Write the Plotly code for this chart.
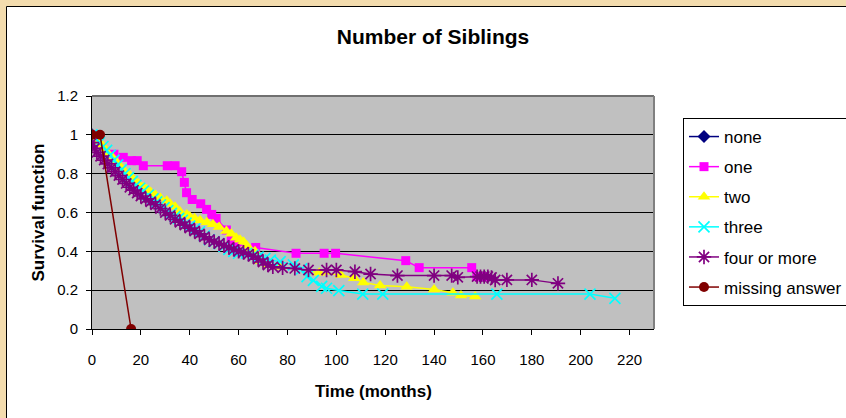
import plotly.graph_objects as go

# ---- data ----
none_x = [0]
none_y = [1.0]

one_x = [0, 9, 12.8, 16.2, 18.5, 21, 30.8, 34, 36.7, 37.8, 38.7, 41, 44.5, 46.9, 49, 50.8,
         55, 57, 59, 67, 83.5, 95, 99.7, 128.4, 133.9, 155.4, 157.5, 160]
one_y = [1.0, 0.9, 0.884, 0.867, 0.867, 0.841, 0.841, 0.841, 0.81, 0.755, 0.702, 0.667, 0.645,
         0.616, 0.59, 0.57, 0.51, 0.46, 0.435, 0.42, 0.39, 0.39, 0.39, 0.352, 0.316, 0.316, 0.27, 0.27]

two_x = [0, 1.5, 2.5, 4, 5, 6.5, 8.7, 10, 12, 13.5, 15.6, 17, 19, 21, 22.4, 24, 26, 28, 30.6, 32,
         34, 36, 38.8, 40, 42, 44.2, 47, 49.5, 52, 55, 57, 59, 60.6, 62, 63.3, 64.7, 66.7, 68.8,
         72, 77, 93, 101.8, 107.3, 111, 117.9, 128.8, 140, 147.7, 151, 156.8]
two_y = [1.0, 0.985, 0.97, 0.95, 0.93, 0.905, 0.88, 0.86, 0.83, 0.81, 0.79, 0.77, 0.75, 0.73,
         0.72, 0.705, 0.69, 0.675, 0.66, 0.645, 0.63, 0.605, 0.59, 0.58, 0.57, 0.56, 0.55, 0.54,
         0.525, 0.505, 0.49, 0.47, 0.46, 0.45, 0.43, 0.41, 0.40, 0.35, 0.33, 0.32, 0.29, 0.278,
         0.261, 0.24, 0.224, 0.218, 0.204, 0.187, 0.173, 0.167]

three_x = [0, 1.5, 3, 4.5, 6, 7.5, 9, 10.5, 12, 13.5, 15, 16.5, 18, 19.5, 21, 23, 25, 26.5, 28,
           29.5, 31, 32.5, 34, 35.5, 37, 38.5, 40, 42, 44, 46, 48, 50, 52, 54, 56, 58, 60, 63.3,
           66, 68, 70.8, 73, 77, 82.4, 85.8, 88, 90.6, 94, 96, 101, 110.8, 119, 165.7, 203.8, 214]
three_y = [1.0, 0.98, 0.96, 0.94, 0.92, 0.895, 0.87, 0.845, 0.82, 0.8, 0.78, 0.76, 0.74, 0.725,
           0.71, 0.69, 0.67, 0.655, 0.64, 0.625, 0.61, 0.595, 0.58, 0.57, 0.56, 0.545, 0.53, 0.515,
           0.5, 0.48, 0.46, 0.45, 0.44, 0.425, 0.41, 0.4, 0.39, 0.39, 0.38, 0.37, 0.364, 0.355,
           0.347, 0.33, 0.31, 0.27, 0.25, 0.22, 0.21, 0.198, 0.18, 0.18, 0.18, 0.18, 0.158]

four_x = [0, 1, 2, 3.5, 5, 6.5, 8, 9.5, 11, 12.5, 14, 15.5, 17, 18.5, 20, 22, 24, 26, 28, 30, 32,
          34, 36, 38, 40, 42, 44, 46, 48, 50, 52, 54, 56, 58, 60, 62, 64, 66, 68, 70, 72, 74, 78,
          83, 88.6, 96, 100, 107.6, 114, 125, 140, 147.2, 149.7, 157.6, 159, 160.5, 162, 163.5,
          165, 169.8, 180, 190.7]
four_y = [0.96, 0.93, 0.91, 0.89, 0.87, 0.85, 0.83, 0.81, 0.79, 0.77, 0.75, 0.73, 0.715, 0.7,
          0.685, 0.67, 0.655, 0.64, 0.62, 0.6, 0.585, 0.565, 0.55, 0.535, 0.52, 0.505, 0.49,
          0.475, 0.46, 0.45, 0.44, 0.43, 0.42, 0.41, 0.4, 0.395, 0.385, 0.375, 0.36, 0.345, 0.33,
          0.32, 0.315, 0.312, 0.304, 0.304, 0.304, 0.295, 0.283, 0.275, 0.275, 0.275, 0.266,
          0.27, 0.27, 0.27, 0.27, 0.265, 0.252, 0.253, 0.253, 0.235]

miss_x = [0, 3.3, 16]
miss_y = [1.0, 1.0, 0.0]

x_ticks = [0, 20, 40, 60, 80, 100, 120, 140, 160, 180, 200, 220]
y_ticks = [0, 0.2, 0.4, 0.6, 0.8, 1.0, 1.2]

# ---- layout geometry (pixels) ----
W, H = 846, 418
L, R, T, B = 92, 654, 96, 329
pw, ph = R - L, B - T


def px(x):
    return (x - L) / pw


def py(y):
    return (B - y) / ph


FONT = "Liberation Sans, Arial, sans-serif"

series = [
    ("none", none_x, none_y, "#000080", dict(symbol="diamond", size=10)),
    ("one", one_x, one_y, "#FF00FF", dict(symbol="square", size=9)),
    ("two", two_x, two_y, "#FFFF00", dict(symbol="triangle-up", size=11)),
    ("three", three_x, three_y, "#00FFFF",
     dict(symbol="x-thin-open", size=11, line=dict(width=1.7, color="#00FFFF"))),
    ("four or more", four_x, four_y, "#800080",
     dict(symbol="asterisk-open", size=12, line=dict(width=1.7, color="#800080"))),
    ("missing answer", miss_x, miss_y, "#800000", dict(symbol="circle", size=10)),
]

fig = go.Figure()
for i, (name, xs, ys, col, mk) in enumerate(series):
    fig.add_trace(go.Scatter(
        x=xs, y=ys, name=name, mode="lines+markers",
        line=dict(color=col, width=1.5),
        marker=dict(color=col, **mk),
        legendgroup=f"g{i}",
    ))

shapes = [
    # beige surround strips
    dict(type="rect", xref="paper", yref="paper", x0=px(-5), x1=px(6), y0=py(H + 5), y1=py(-5),
         fillcolor="#f3dcae", line=dict(width=0), layer="above"),
    dict(type="rect", xref="paper", yref="paper", x0=px(-5), x1=px(W + 5), y0=py(6), y1=py(-5),
         fillcolor="#f3dcae", line=dict(width=0), layer="above"),
    # chart border
    dict(type="line", xref="paper", yref="paper", x0=px(6.5), x1=px(6.5), y0=py(6.5), y1=py(H + 5),
         line=dict(color="black", width=1), layer="above"),
    dict(type="line", xref="paper", yref="paper", x0=px(6.5), x1=px(W + 5), y0=py(6.5), y1=py(6.5),
         line=dict(color="black", width=1), layer="above"),
    # plot-area frame (top and right)
    dict(type="line", xref="paper", yref="paper", x0=0, x1=1, y0=1, y1=1,
         line=dict(color="#707070", width=2), layer="above"),
    dict(type="line", xref="paper", yref="paper", x0=1, x1=1, y0=0, y1=1,
         line=dict(color="#808080", width=2), layer="above"),
]

annotations = [
    dict(text="<b>Survival function</b>", xref="paper", yref="paper", x=px(38), y=0.5,
         textangle=-90, showarrow=False, font=dict(family=FONT, size=17, color="black"),
         xanchor="center", yanchor="middle"),
    dict(text="<b>Time (months)</b>", xref="paper", yref="paper", x=0.5, y=py(391),
         showarrow=False, font=dict(family=FONT, size=17, color="black"),
         xanchor="center", yanchor="middle"),
]

fig.update_layout(
    width=W, height=H,
    margin=dict(l=L, r=W - R, t=T, b=H - B, autoexpand=False),
    paper_bgcolor="white", plot_bgcolor="#c0c0c0",
    font=dict(family=FONT, size=15, color="black"),
    title=dict(text="<b>Number of Siblings</b>", xref="container", yref="container",
               x=433 / W, y=1 - 37 / H, xanchor="center", yanchor="middle",
               font=dict(family=FONT, size=21, color="black")),
    xaxis=dict(range=[0, 230], tickmode="array", tickvals=x_ticks,
               showgrid=False, zeroline=False, showline=True, linecolor="black", linewidth=1,
               ticks="outside", ticklen=5, tickcolor="black", ticklabelstandoff=12,
               tickfont=dict(size=15)),
    yaxis=dict(range=[0, 1.2], tickmode="array", tickvals=y_ticks,
               ticktext=["0", "0.2", "0.4", "0.6", "0.8", "1", "1.2"],
               showgrid=True, gridcolor="black", gridwidth=1, zeroline=False,
               showline=True, linecolor="black", linewidth=1,
               ticks="outside", ticklen=5, tickcolor="black", ticklabelstandoff=5,
               tickfont=dict(size=15)),
    legend=dict(x=px(683), y=py(118), xanchor="left", yanchor="top",
                bgcolor="white", bordercolor="black", borderwidth=1,
                font=dict(family=FONT, size=17, color="black"),
                tracegroupgap=5, traceorder="grouped"),
    showlegend=True,
    shapes=shapes, annotations=annotations,
)

fig.write_html("out.html", config={"displayModeBar": False},
               post_script="document.body.style.margin='0';document.body.style.overflow='hidden';")
